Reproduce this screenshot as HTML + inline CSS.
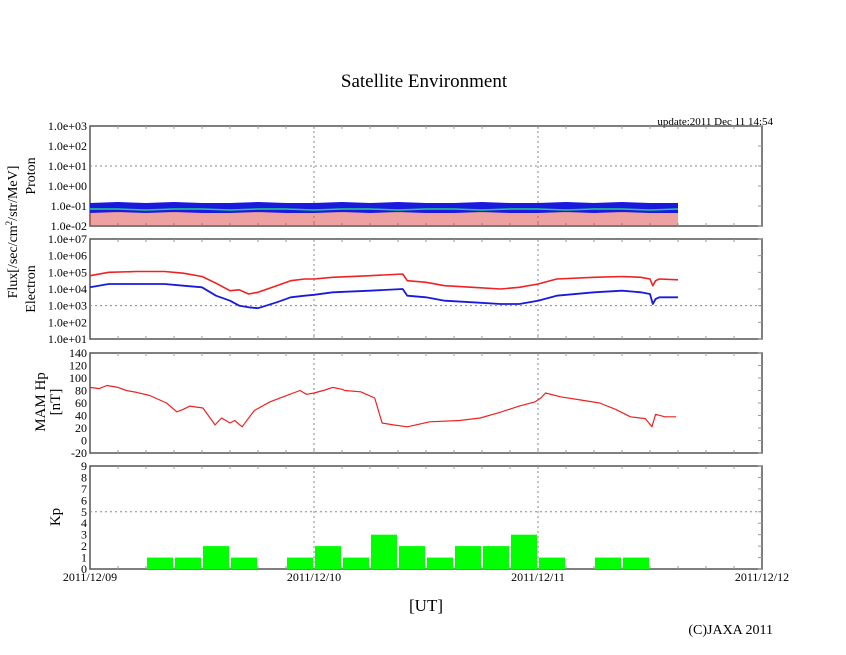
<!DOCTYPE html>
<html><head><meta charset="utf-8"><style>
body{margin:0;background:#fff;}
svg{display:block;font-family:"Liberation Serif",serif;}
</style></head><body>
<svg id="c" width="846" height="655" viewBox="0 0 846 655" xmlns="http://www.w3.org/2000/svg">
<text x="424" y="87" font-size="19" text-anchor="middle">Satellite Environment</text>
<text x="773" y="125" font-size="11" text-anchor="end">update:2011 Dec 11 14:54</text>
<text transform="translate(17,232) rotate(-90)" font-size="14" text-anchor="middle">Flux[/sec/cm<tspan dy="-5" font-size="9">2</tspan><tspan dy="5">/str/MeV]</tspan></text>
<text transform="translate(35,176) rotate(-90)" font-size="14" text-anchor="middle">Proton</text>
<text transform="translate(35,289) rotate(-90)" font-size="14" text-anchor="middle">Electron</text>
<text transform="translate(45,402) rotate(-90)" font-size="15" text-anchor="middle">MAM Hp</text>
<text transform="translate(60,402) rotate(-90)" font-size="15" text-anchor="middle">[nT]</text>
<text transform="translate(60,517) rotate(-90)" font-size="15" text-anchor="middle">Kp</text>
<text x="426" y="611" font-size="17" text-anchor="middle">[UT]</text>
<text x="773" y="634" font-size="14" text-anchor="end">(C)JAXA 2011</text>
<g id="g"></g>
</svg>
<script>
// Data (hours from 2011/12/09 00:00 UT)
const dayLabels=["2011/12/09","2011/12/10","2011/12/11","2011/12/12"];
const hpHours=[0,1,1.8,3,3.9,5,6.4,8.2,9.3,10,10.7,12.1,13.4,14.1,15,15.5,16.3,17.6,19.3,20.7,22.5,23.2,24,25,26,27,27.3,29,30.5,31.3,32.5,34,36.4,39.6,41.8,43.9,46,47.7,48.3,48.8,50.4,52.5,54.6,56.3,57.9,59.5,60.2,60.6,61.6,62.8];
const hpValues=[85,83,88,85,80,77,72,60,46,50,55,52,25,36,28,32,22,48,62,70,80,74,76,80,85,82,80,78,68,28,25,22,30,32,36,45,55,62,68,76,70,65,60,50,38,35,22,42,38,38];
const eHours=[0,2,5,8,10,12,13.5,15,16,17,18,20,21.5,23,24,26,30,33.5,34,36,38,41,44,46,48,50,54,57,59,60,60.3,60.6,61,63];
const eRed=[4.8,5.0,5.05,5.05,4.95,4.75,4.35,3.9,3.95,3.7,3.8,4.2,4.5,4.6,4.6,4.7,4.8,4.9,4.5,4.4,4.2,4.1,4.0,4.1,4.3,4.6,4.7,4.75,4.7,4.6,4.2,4.5,4.6,4.55];
const eBlue=[4.1,4.3,4.3,4.3,4.2,4.1,3.6,3.3,3.0,2.9,2.85,3.2,3.5,3.6,3.65,3.8,3.9,4.0,3.6,3.5,3.3,3.2,3.1,3.1,3.3,3.6,3.8,3.9,3.8,3.7,3.1,3.4,3.5,3.5];
const pHours=[0,3,6,9,12,15,18,21,24,27,30,33,36,39,42,45,48,51,54,57,60,63];
const pBlueLog=[-1.1,-1.05,-1.1,-1.05,-1.1,-1.1,-1.05,-1.1,-1.1,-1.05,-1.1,-1.05,-1.1,-1.1,-1.05,-1.1,-1.1,-1.05,-1.1,-1.05,-1.1,-1.1];
const pGreenLog=[-1.15,-1.15,-1.2,-1.15,-1.15,-1.2,-1.15,-1.15,-1.2,-1.15,-1.15,-1.2,-1.15,-1.15,-1.2,-1.15,-1.15,-1.2,-1.15,-1.15,-1.2,-1.15];
const kpValues=[0,0,1,1,2,1,0,1, 2,1,3,2,1,2,2,3, 1,0,1,1];
const protonTicks=["1.0e-02","1.0e-01","1.0e+00","1.0e+01","1.0e+02","1.0e+03"];
const electronTicks=["1.0e+01","1.0e+02","1.0e+03","1.0e+04","1.0e+05","1.0e+06","1.0e+07"];
const hpTicks=[-20,0,20,40,60,80,100,120,140];
const kpTicks=[0,1,2,3,4,5,6,7,8,9];

const NS="http://www.w3.org/2000/svg";
const G=document.getElementById('g');
const X0=90,X1=762,H=72;
const x=h=>X0+h*(X1-X0)/H;
function el(t,a,p){const e=document.createElementNS(NS,t);for(const k in a)e.setAttribute(k,a[k]);(p||G).appendChild(e);return e;}
const panels=[{t:126,b:226},{t:239,b:339},{t:353,b:453},{t:466,b:569}];
const yP=v=>panels[0].b-(v+2)*(panels[0].b-panels[0].t)/5;
const yE=v=>panels[1].b-(v-1)*(panels[1].b-panels[1].t)/6;
const yH=v=>panels[2].b-(v+20)*(panels[2].b-panels[2].t)/160;
const yK=v=>panels[3].b-v*(panels[3].b-panels[3].t)/9;

function frame(p,ticks,yf,vals,gridVals,name){
  const f=el('rect',{x:X0,y:p.t,width:X1-X0,height:p.b-p.t,fill:'none',stroke:'#555','stroke-width':1.5});
  
  
  for(let h=3;h<H;h+=3){el('line',{x1:x(h),x2:x(h),y1:p.t,y2:p.t+3,stroke:'#999'});el('line',{x1:x(h),x2:x(h),y1:p.b,y2:p.b-3,stroke:'#999'});}
  for(let d=1;d<3;d++){const l=el('line',{x1:x(d*24),x2:x(d*24),y1:p.t,y2:p.b,stroke:'#888','stroke-dasharray':'2,3'});}
  ticks.forEach((t,i)=>{const y=yf(vals[i]);
    const tx=el('text',{x:X0-3,y:y+4,'font-size':12,'text-anchor':'end'});tx.textContent=t;
    
    
    el('line',{x1:X1,x2:X1-4,y1:y,y2:y,stroke:'#999'});});
  gridVals.forEach(v=>{const l=el('line',{x1:X0,x2:X1,y1:yf(v),y2:yf(v),stroke:'#888','stroke-dasharray':'2,3'});});
}
frame(panels[0],protonTicks,yP,[-2,-1,0,1,2,3],[1],'proton');
frame(panels[1],electronTicks,yE,[1,2,3,4,5,6,7],[3],'electron');
frame(panels[2],hpTicks.map(String),yH,hpTicks,[],'hp');
frame(panels[3],kpTicks.map(String),yK,kpTicks,[5],'kp');
dayLabels.forEach((d,i)=>{const t=el('text',{x:x(i*24),y:581,'font-size':12,'text-anchor':'middle'});t.textContent=d;
  
  });

function line(hs,vs,yf,color,w,name){
  const pts=hs.map((h,i)=>x(h).toFixed(1)+','+yf(vs[i]).toFixed(1)).join(' ');
  const p=el('polyline',{points:pts,fill:'none',stroke:color,'stroke-width':w,'stroke-linejoin':'round'});
  
  
}
const pr=el('rect',{x:X0,y:yP(-1.3),width:x(pHours[pHours.length-1])-X0,height:panels[0].b-yP(-1.3),fill:'#d44','opacity':0.5});


line(pHours,pBlueLog,yP,'#1a1adf',10,'proton-blue-series');
line(pHours,pGreenLog,yP,'#22cc88',1.5,'proton-green-series');
line(eHours,eRed,yE,'#e22',1.6,'electron-red-series');
line(eHours,eBlue,yE,'#1a1adf',1.8,'electron-blue-series');
line(hpHours,hpValues,yH,'#e22',1.2,'hp-series');
kpValues.forEach((v,i)=>{if(!v)return;
  const r=el('rect',{x:x(i*3)+1,y:yK(v),width:x(3)-X0-2,height:yK(0)-yK(v),fill:'#00ff00'});
  
  });
</script>
</body></html>
